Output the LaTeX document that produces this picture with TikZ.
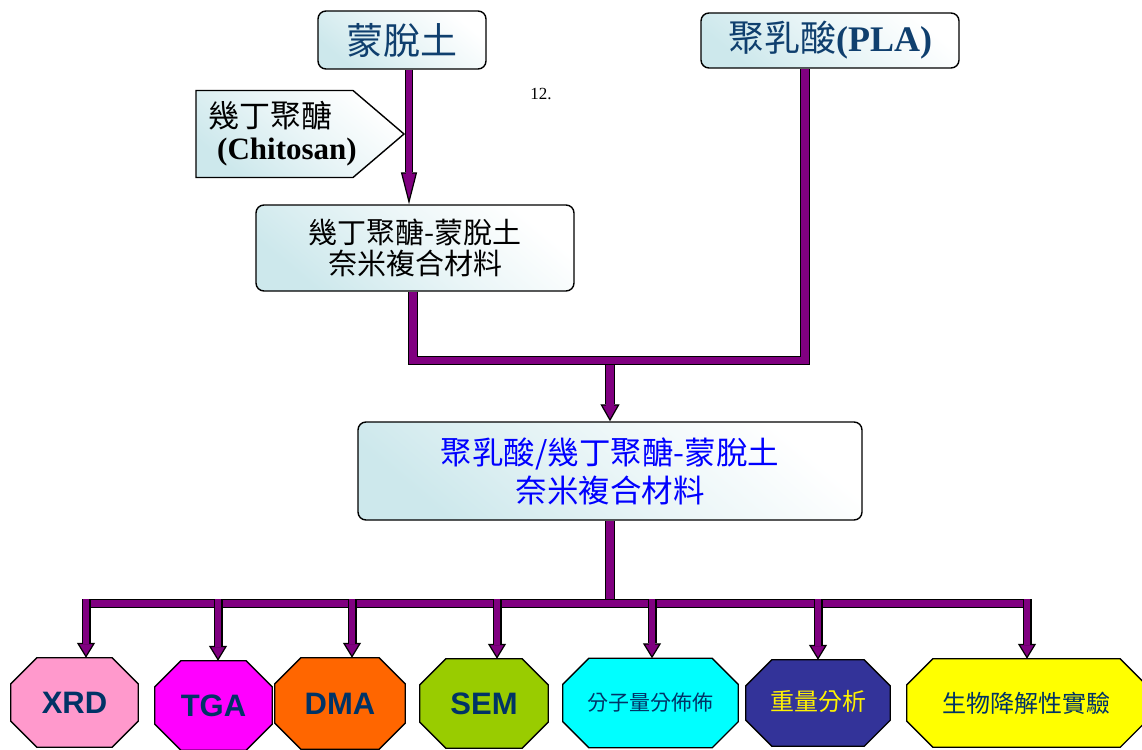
\documentclass[tikz,border=0pt]{standalone}
\usepackage{fontspec}
\setmainfont{Liberation Serif}
\newfontfamily\cjk{Noto Sans CJK TC}
\newfontfamily\arialf{Liberation Sans}
\usetikzlibrary{arrows.meta,backgrounds,calc}
\definecolor{arrowc}{HTML}{800080}
\definecolor{boxc}{HTML}{CDE8EC}
\definecolor{navytext}{HTML}{003366}
\definecolor{titletext}{HTML}{0F3F6E}
\definecolor{xrdc}{HTML}{FF99CC}
\definecolor{tgac}{HTML}{FF00FF}
\definecolor{dmac}{HTML}{FF6600}
\definecolor{semc}{HTML}{99CC00}
\definecolor{mwc}{HTML}{00FFFF}
\definecolor{wtc}{HTML}{333399}
\definecolor{bioc}{HTML}{FFFF00}
\tikzset{
  boxshade/.style={draw=black, line width=1.4pt, top color=white, bottom color=boxc, middle color=boxc!45!white, shading angle=-40},
  roundbox/.style={boxshade, rounded corners=8pt, inner sep=0pt},
  octnode/.style={inner sep=0pt, draw=none},
  outerline/.style={line width=9.5pt, draw=black, line join=miter},
  innerline/.style={line width=7.1pt, draw=arrowc, line join=miter},
}
% vertical block arrow: from, to, outer width, inner width, head width, head length
\newcommand\varrow[6]{%
  \draw[line width=#3pt, black] (#1) -- ([yshift=#6pt]#2);
  \draw[line width=1.2pt, black, -{Triangle[width=#5pt, length=#6pt, fill=arrowc]}] ([yshift=#6pt]#2) -- (#2);
  \draw[line width=#4pt, arrowc] (#1) -- ([yshift=#6pt-1.5pt]#2);
}
\newcommand\octagon[2]{%
  \begin{pgfonlayer}{background}
  \draw[line width=1.3pt, fill=#2] ([xshift=26pt]#1.north west) -- ([xshift=-26pt]#1.north east)
    -- ([yshift=-26pt]#1.north east) -- ([yshift=26pt]#1.south east)
    -- ([xshift=-26pt]#1.south east) -- ([xshift=26pt]#1.south west)
    -- ([yshift=26pt]#1.south west) -- ([yshift=-26pt]#1.north west) -- cycle;
  \end{pgfonlayer}}
\begin{document}
\begin{tikzpicture}[x=1pt,y=-1pt]
\useasboundingbox (0,0) rectangle (1142,749);

% top boxes
\node[roundbox, minimum width=168pt, minimum height=58pt, text=titletext,
      font=\cjk\fontsize{37}{40}\selectfont] (mt) at (402,40) {蒙脫土};
\node[roundbox, minimum width=258pt, minimum height=55pt, text=titletext] (pla) at (830,40.5)
  {{\cjk\fontsize{36}{40}\selectfont 聚乳酸}{\bfseries\fontsize{36}{40}\selectfont (PLA)}};

% chitosan pentagon
\node[anchor=west, align=left, inner sep=0pt, font=\fontsize{31}{32}\selectfont] (chit) at (208,134)
  {{\cjk 幾丁聚醣}\\\hspace*{9pt}\textbf{(Chitosan)}};
\begin{pgfonlayer}{background}
\draw[boxshade] ([shift={(-12,-43.5)}]chit.west) -- ++(157,0) -- ++(51,43.5) -- ++(-51,43.5) -- ++(-157,0) -- cycle;
\end{pgfonlayer}

\node[font=\fontsize{17}{20}\selectfont] (num) at (541,94) {12.};

% middle boxes
\node[roundbox, minimum width=318pt, minimum height=86pt, align=center,
      font=\cjk\fontsize{29}{31}\selectfont] (cm) at (415,248) {幾丁聚醣-蒙脫土\\奈米複合材料};
\node[roundbox, minimum width=504pt, minimum height=98pt, align=center, text=blue,
      font=\cjk\fontsize{31.5}{38}\selectfont] (main) at (610,471) {聚乳酸/幾丁聚醣-蒙脫土\\奈米複合材料};

% octagons
\node[octnode, minimum width=127pt, minimum height=89pt, text=navytext, font=\arialf\bfseries\fontsize{31}{32}\selectfont] (xrd) at (74.5,702.5) {XRD};
\node[octnode, minimum width=117pt, minimum height=89pt, text=navytext, font=\arialf\bfseries\fontsize{31}{32}\selectfont] (tga) at (213.5,705.5) {TGA};
\node[octnode, minimum width=130pt, minimum height=91pt, text=navytext, font=\arialf\bfseries\fontsize{31}{32}\selectfont] (dma) at (340,703.5) {DMA};
\node[octnode, minimum width=128pt, minimum height=89pt, text=navytext, font=\arialf\bfseries\fontsize{31}{32}\selectfont] (sem) at (484,703.5) {SEM};
\node[octnode, minimum width=175pt, minimum height=89pt, text=navytext, font=\cjk\fontsize{21}{24}\selectfont] (mw) at (650.5,703) {分子量分佈佈};
\node[octnode, minimum width=144pt, minimum height=86pt, text=yellow, font=\cjk\fontsize{24}{26}\selectfont] (wt) at (818,703) {\raisebox{5pt}{重量分析}};
\node[octnode, minimum width=239pt, minimum height=88pt, text=navytext, font=\cjk\fontsize{24}{26}\selectfont] (bio) at (1026.5,703) {生物降解性實驗};
\octagon{xrd}{xrdc}
\octagon{tga}{tgac}
\octagon{dma}{dmac}
\octagon{sem}{semc}
\octagon{mw}{mwc}
\octagon{wt}{wtc}
\octagon{bio}{bioc}

% arrow from montmorillonite to composite
\coordinate (a1s) at ([xshift=7pt]mt.south);
\coordinate (a1e) at (a1s |- cm.north);
\varrow{a1s}{a1e}{8}{5.6}{16}{32}

% elbow joining composite and PLA
\coordinate (j) at (610,360.5);
\coordinate (cms) at ([xshift=-2pt]cm.south);
\coordinate (pj) at ([xshift=-25pt]pla.south);
\draw[outerline] (cms) |- (j) -| (pj);
\draw[innerline] (cms) |- (j) -| (pj);
\coordinate (c1s) at (610,365);
\varrow{c1s}{main.north}{9.5}{7.1}{19}{17}

% stem and bottom bar
\coordinate (bm) at (610,603.5);
\coordinate (bl) at (82,603.5);
\coordinate (br) at (1032,603.5);
\draw[outerline] (main.south) -- (bm);
\draw[innerline] (main.south) -- (bm);
\draw[outerline] (bl) -- (br);
\draw[innerline] (bl) -- (br);

\foreach \xx/\nn in {86/xrd, 218/tga, 352/dma, 497/sem, 652/mw, 818/wt, 1027/bio}{
  \coordinate (s\nn) at (\xx,599);
  \coordinate (e\nn) at (s\nn |- \nn.north);
  \varrow{s\nn}{e\nn}{9}{6.6}{18}{15}
}
\end{tikzpicture}
\end{document}
